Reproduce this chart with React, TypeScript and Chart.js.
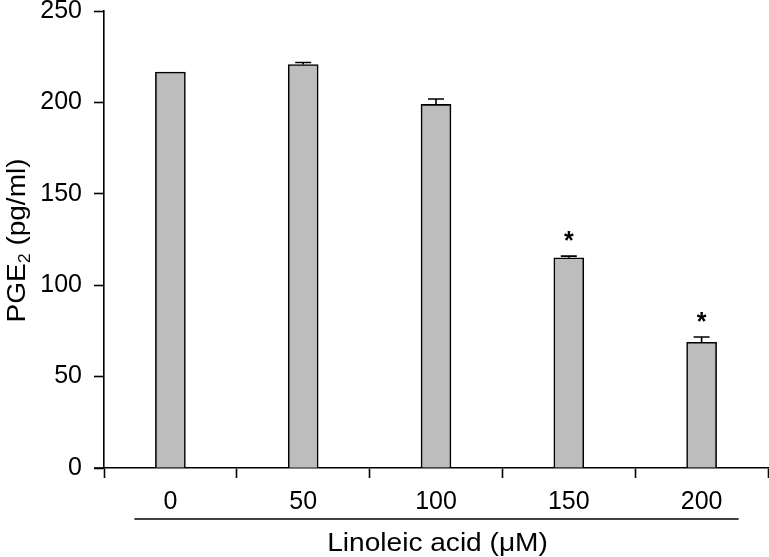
import React, { useEffect, useRef } from "react";
import { Chart, registerables } from "chart.js";

Chart.register(...registerables);

const categories = ["0", "50", "100", "150", "200"];
const values = [216.6, 220.7, 198.9, 115.0, 68.8];
const errors = [0, 1.1, 3.0, 0.9, 2.9];
const marks = ["", "", "", "*", "*"];
const yTicks = [0, 50, 100, 150, 200, 250];
const xTitle = "Linoleic acid (\u03bcM)";
const yTitleMain = "PGE";
const yTitleSub = "2";
const yTitleRest = " (pg/ml)";

const FONT = "'Liberation Sans', Arial, sans-serif";

const decorPlugin = {
  id: "decor",
  afterDatasetsDraw(chart: any) {
    const ctx = chart.ctx;
    const x = chart.scales.x;
    const y = chart.scales.y;
    ctx.save();
    ctx.strokeStyle = "#000";
    ctx.fillStyle = "#000";
    ctx.lineWidth = 1.6;
    const capHalf = 8;
    values.forEach((v, i) => {
      const e = errors[i];
      const cx = x.getPixelForValue(i);
      if (e > 0) {
        const top = y.getPixelForValue(v + e);
        const base = y.getPixelForValue(v);
        ctx.beginPath();
        ctx.moveTo(cx, base);
        ctx.lineTo(cx, top);
        ctx.moveTo(cx - capHalf, top);
        ctx.lineTo(cx + capHalf, top);
        ctx.stroke();
      }
      if (marks[i]) {
        const top = y.getPixelForValue(v + e);
        ctx.font = `bold 25px ${FONT}`;
        ctx.textAlign = "center";
        ctx.textBaseline = "alphabetic";
        ctx.fillText(marks[i], cx, top - 7);
      }
    });
    ctx.restore();
  },
  afterDraw(chart: any) {
    const ctx = chart.ctx;
    const x = chart.scales.x;
    const area = chart.chartArea;
    ctx.save();
    ctx.strokeStyle = "#000";
    ctx.fillStyle = "#000";
    ctx.lineWidth = 1.6;
    // small extension of the x axis to the left of the y axis
    ctx.beginPath();
    ctx.moveTo(area.left - 10, area.bottom);
    ctx.lineTo(area.left, area.bottom);
    ctx.stroke();
    // underline below category labels
    const x0 = x.getPixelForValue(0) - 36;
    const x1 = x.getPixelForValue(categories.length - 1) + 37;
    const ly = area.bottom + 51;
    ctx.beginPath();
    ctx.moveTo(x0, ly);
    ctx.lineTo(x1, ly);
    ctx.stroke();
    // x title (slightly stretched horizontally)
    ctx.save();
    ctx.translate((x0 + x1) / 2 + 1, area.bottom + 76);
    ctx.scale(1.08, 1);
    ctx.font = `26px ${FONT}`;
    ctx.textAlign = "center";
    ctx.textBaseline = "middle";
    ctx.fillText(xTitle, 0, 0);
    ctx.restore();
    // y title rotated with subscript
    const cy = (area.top + area.bottom) / 2 + 1;
    ctx.translate(16, cy);
    ctx.rotate(-Math.PI / 2);
    ctx.scale(1.12, 1);
    const big = `25px ${FONT}`;
    const small = `16px ${FONT}`;
    ctx.font = big;
    const w1 = ctx.measureText(yTitleMain).width;
    const w3 = ctx.measureText(yTitleRest).width;
    ctx.font = small;
    const w2 = ctx.measureText(yTitleSub).width;
    const total = w1 + w2 + w3;
    let px = -total / 2;
    ctx.textAlign = "left";
    ctx.textBaseline = "alphabetic";
    const baseY = 9;
    ctx.font = big;
    ctx.fillText(yTitleMain, px, baseY);
    px += w1;
    ctx.font = small;
    ctx.fillText(yTitleSub, px, baseY + 5);
    px += w2;
    ctx.font = big;
    ctx.fillText(yTitleRest, px, baseY);
    ctx.restore();
  },
};

export default function App() {
  const ref = useRef<HTMLCanvasElement | null>(null);
  useEffect(() => {
    if (!ref.current) return;
    const chart = new Chart(ref.current, {
      type: "bar",
      data: {
        labels: categories,
        datasets: [
          {
            data: values,
            backgroundColor: "#bdbdbd",
            borderColor: "#000",
            borderWidth: 1.6,
            barThickness: 30,
          },
        ],
      },
      options: {
        responsive: false,
        animation: false,
        events: [],
        layout: { padding: { top: 11, right: 1, left: 0, bottom: 0 } },
        plugins: {
          legend: { display: false },
          tooltip: { enabled: false },
          title: { display: false },
        },
        scales: {
          x: {
            offset: true,
            grid: {
              offset: true,
              drawOnChartArea: false,
              drawTicks: true,
              tickLength: 10,
              tickColor: "#000",
              tickWidth: 1.6,
              color: "#000",
            },
            border: { color: "#000", width: 1.6 },
            ticks: {
              color: "#000",
              font: { family: FONT, size: 25 },
              padding: 9,
              maxRotation: 0,
            },
            afterFit(scale: any) {
              scale.height = 89;
              scale.paddingLeft = 0;
              scale.paddingRight = 0;
            },
          },
          y: {
            min: 0,
            max: 250,
            afterBuildTicks(scale: any) {
              scale.ticks = yTicks.map((v) => ({ value: v }));
            },
            grid: {
              drawOnChartArea: false,
              drawTicks: true,
              tickLength: 10,
              tickColor: "#000",
              tickWidth: 1.6,
              color: "#000",
            },
            border: { color: "#000", width: 1.6 },
            ticks: {
              color: "#000",
              font: { family: FONT, size: 25 },
              padding: 12,
            },
            afterFit(scale: any) {
              scale.width = 104;
              scale.paddingTop = 0;
              scale.paddingBottom = 0;
            },
          },
        },
      },
      plugins: [decorPlugin],
    });
    return () => chart.destroy();
  }, []);
  return (
    <div style={{ position: "fixed", left: 0, top: 0, width: 769, height: 557, background: "#fff" }}>
      <canvas ref={ref} width={769} height={557} style={{ width: 769, height: 557, display: "block" }} />
    </div>
  );
}
